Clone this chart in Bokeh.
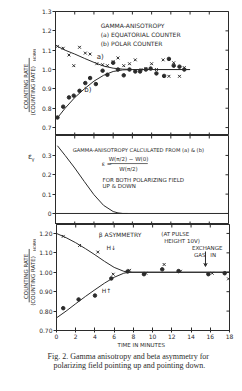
from math import pi
from bokeh.plotting import figure
from bokeh.layouts import column, row
from bokeh.models import Range1d, Label, Arrow, VeeHead, FixedTicker, Span
from bokeh.embed import file_html
from bokeh.resources import INLINE

# ---------------- data ----------------
time_ticks = [0, 2, 4, 6, 8, 10, 12, 14, 16, 18]

# panel 1: gamma anisotropy, (a) equatorial counter (crosses), (b) polar counter (dots)
p1_eq_t = [0.2, 0.8, 1.4, 1.9, 2.5, 3.1, 3.6, 4.3, 4.9, 5.4, 6.0, 6.5, 7.1, 7.7, 8.3, 8.9, 9.4, 10.0, 10.5, 11.2, 11.8, 12.3, 12.9, 13.4]
p1_eq_v = [1.12, 1.11, 1.075, 1.02, 1.115, 1.085, 1.08, 1.03, 1.025, 1.02, 1.04, 1.06, 1.02, 1.03, 1.05, 1.0, 1.005, 1.03, 1.0, 1.05, 0.965, 1.035, 0.965, 1.01]
p1_pol_t = [0.2, 0.8, 1.4, 1.9, 2.5, 3.1, 3.6, 4.2, 4.9, 5.4, 6.0, 6.5, 7.1, 7.7, 8.3, 8.8, 9.4, 9.9, 10.5, 11.3, 11.8, 12.3, 12.9, 13.4]
p1_pol_v = [0.752, 0.808, 0.856, 0.865, 0.89, 0.93, 0.956, 0.925, 0.994, 0.973, 1.035, 1.0, 0.97, 1.0, 0.99, 0.99, 1.0, 1.005, 0.98, 0.967, 1.055, 1.02, 1.015, 1.0]
p1_fit_a_t = [0.2, 1, 2, 3, 4, 5, 6, 7, 8, 14]
p1_fit_a_v = [1.12, 1.10, 1.08, 1.058, 1.037, 1.018, 1.007, 1.002, 1.0, 1.0]
p1_fit_b_t = [0.2, 1, 2, 3, 4, 5, 6, 7, 8, 14]
p1_fit_b_v = [0.75, 0.80, 0.855, 0.90, 0.94, 0.97, 0.99, 0.998, 1.0, 1.0]
p1_yticks = [0.7, 0.8, 0.9, 1.0, 1.1, 1.2, 1.3]
p1_ylabels = ["0.7", "0.8", "0.9", "1.0", "1.1", "1.2", "1.3"]

# panel 2: calculated gamma anisotropy
p2_eps_t = [0.2, 1, 2, 3, 4, 5, 6, 6.5, 7, 7.5]
p2_eps_v = [0.35, 0.30, 0.235, 0.165, 0.097, 0.042, 0.01, 0.003, 0.0, 0.0]
p2_yticks = [0.0, 0.1, 0.2, 0.3]
p2_ylabels = ["0", "0.1", "0.2", "0.3"]

# panel 3: beta asymmetry, H down (crosses), H up (dots)
p3_down_t = [0.7, 2.4, 4.3, 5.9, 7.6, 9.3, 11.2, 12.9, 16.2, 17.9]
p3_down_v = [1.185, 1.138, 1.104, 0.99, 1.01, 0.995, 1.04, 1.005, 0.995, 0.966]
p3_up_t = [0.7, 2.3, 4.0, 5.7, 7.4, 9.1, 11.0, 12.7, 15.8, 17.5]
p3_up_v = [0.815, 0.86, 0.88, 0.968, 1.004, 0.99, 1.015, 1.006, 0.99, 0.995]
p3_fit_down_t = [0, 1, 2, 3, 4, 5, 6, 7, 7.5, 18]
p3_fit_down_v = [1.20, 1.178, 1.152, 1.122, 1.09, 1.056, 1.025, 1.005, 1.0, 1.0]
p3_fit_up_t = [0, 1, 2, 3, 4, 5, 6, 7, 7.5, 18]
p3_fit_up_v = [0.765, 0.80, 0.838, 0.875, 0.91, 0.944, 0.974, 0.995, 1.0, 1.0]
p3_yticks = [0.7, 0.8, 0.9, 1.0, 1.1, 1.2]
p3_ylabels = ["0.70", "0.80", "0.90", "1.00", "1.10", "1.20"]

INK = "#2b2b2b"
FONT = "DejaVu Sans"
SERIF = "Liberation Serif"
LAB_W = 36      # width of the y-title strip (page x 0..36)
FRAME_W = 173
X0, X1 = 0, 18


def make_fig(frame_h, yr, yticks, ylabels, top, bottom, show_x):
    p = figure(title=None, frame_width=FRAME_W, frame_height=frame_h,
               x_range=Range1d(X0, X1), y_range=Range1d(*yr),
               output_backend="svg", toolbar_location=None,
               x_axis_location="below" if show_x else None,
               min_border_left=19, min_border_right=6, min_border_top=top, min_border_bottom=bottom)
    p.grid.visible = False
    p.outline_line_color = INK
    p.outline_line_width = 1
    p.background_fill_color = "white"
    p.border_fill_color = "white"
    ya = p.yaxis[0]
    ya.ticker = FixedTicker(ticks=yticks)
    ya.major_label_overrides = {t: l for t, l in zip(yticks, ylabels)}
    ya.major_label_text_font = FONT
    ya.major_label_text_font_size = "6px"
    ya.major_label_text_color = INK
    ya.major_label_standoff = 1
    ya.major_tick_out = 3
    ya.major_tick_in = 0
    ya.minor_tick_line_color = None
    ya.axis_line_color = INK
    ya.major_tick_line_color = INK
    if show_x:
        xa = p.xaxis[0]
        xa.ticker = FixedTicker(ticks=time_ticks)
        xa.minor_tick_line_color = None
        xa.axis_line_color = INK
        xa.major_tick_line_color = INK
        xa.major_label_text_font = FONT
        xa.major_label_text_font_size = "6px"
        xa.major_label_text_color = INK
        xa.major_label_standoff = 1
        xa.major_tick_out = 2
        xa.major_tick_in = 3
        xa.axis_label = "TIME  IN  MINUTES"
        xa.axis_label_text_font = FONT
        xa.axis_label_text_font_size = "5.5px"
        xa.axis_label_text_font_style = "normal"
        xa.axis_label_text_color = INK
        xa.axis_label_standoff = 0
    else:
        # inward time ticks on the bottom edge (half of each dash is clipped by the frame)
        p.scatter(time_ticks, [yr[0]] * len(time_ticks), marker="dash", angle=pi / 2, size=6,
                  line_color=INK, line_width=1)
    # inward time ticks on the top edge and value ticks on the right edge
    p.scatter(time_ticks, [yr[1]] * len(time_ticks), marker="dash", angle=pi / 2, size=6,
              line_color=INK, line_width=1)
    p.scatter([X1] * len(yticks), yticks, marker="dash", size=6, line_color=INK, line_width=1)
    return p


def strip_fig(frame_h, yr, top, bottom):
    f = figure(title=None, frame_width=LAB_W, frame_height=frame_h,
               x_range=Range1d(0, LAB_W), y_range=Range1d(*yr),
               output_backend="svg", toolbar_location=None, x_axis_location=None,
               y_axis_location=None,
               min_border_left=0, min_border_right=0, min_border_top=top, min_border_bottom=bottom)
    f.grid.visible = False
    f.outline_line_color = None
    f.background_fill_color = "white"
    f.border_fill_color = "white"
    return f


def txt(p, x, y, s, size="6px", align="left", font=FONT, angle=0.0):
    p.add_layout(Label(x=x, y=y, text=s, text_font=font, text_font_size=size, text_color=INK,
                       text_align=align, text_baseline="middle", angle=angle))


def ytitle(f, y_outer, y_inner, y_norm, y_bar0, y_bar1):
    txt(f, 25, y_outer, "COUNTING  RATE", size="5.5px", align="center", angle=pi / 2)
    txt(f, 32.3, y_inner, "⟨COUNTING  RATE⟩", size="5.5px", align="center", angle=pi / 2)
    txt(f, 34.2, y_norm, "NORM", size="3.8px", align="center", angle=pi / 2)
    f.add_layout(Arrow(x_start=28.7, y_start=y_bar0, x_end=28.7, y_end=y_bar1,
                       start=None, end=None, line_color=INK, line_width=0.8))


# ---------------- panel 1 ----------------
yr1 = (0.659, 1.3)
p1 = make_fig(124, yr1, p1_yticks, p1_ylabels, 11, 0, False)
p1.line(p1_fit_a_t, p1_fit_a_v, line_color=INK, line_width=1)
p1.line(p1_fit_b_t, p1_fit_b_v, line_color=INK, line_width=1)
p1.scatter(p1_eq_t, p1_eq_v, marker="x", size=4, line_color=INK, line_width=1)
p1.scatter(p1_pol_t, p1_pol_v, marker="circle", size=3.5, fill_color=INK, line_color=INK)
txt(p1, 4.7, 1.227, "GAMMA-ANISOTROPY")
txt(p1, 4.7, 1.181, "(a) EQUATORIAL COUNTER")
txt(p1, 4.7, 1.134, "(b) POLAR COUNTER")
txt(p1, 4.3, 1.063, "a)", size="7px")
txt(p1, 3.0, 0.893, "b)", size="7px")
l1 = strip_fig(124, yr1, 11, 0)
ytitle(l1, 0.917, 0.895, 1.075, 0.78, 1.06)

# ---------------- panel 2 ----------------
yr2 = (-0.057, 0.403)
p2 = make_fig(89, yr2, p2_yticks, p2_ylabels, 0, 0, False)
p2.add_layout(Span(location=0, dimension="width", line_color=INK, line_width=1))
p2.line(p2_eps_t, p2_eps_v, line_color=INK, line_width=1)
txt(p2, 1.8, 0.33, "GAMMA-ANISOTROPY CALCULATED FROM (a) & (b)", size="5.2px")
txt(p2, 4.8, 0.258, "ε =", size="6px")
txt(p2, 7.6, 0.283, "W(π/2) − W(0)", size="5.5px", align="center")
txt(p2, 7.6, 0.232, "W(π/2)", size="5.5px", align="center")
p2.add_layout(Arrow(x_start=5.7, y_start=0.258, x_end=9.6, y_end=0.258, start=None, end=None,
                    line_color=INK, line_width=0.7))
txt(p2, 4.9, 0.171, "FOR BOTH POLARIZING FIELD", size="5.5px")
txt(p2, 4.9, 0.140, "UP & DOWN", size="5.5px")
l2 = strip_fig(89, yr2, 0, 0)
txt(l2, 29.5, 0.295, "ε", size="7.5px", align="center")
txt(l2, 32.5, 0.283, "γ", size="5px", align="center")

# ---------------- panel 3 ----------------
yr3 = (0.70, 1.246)
p3 = make_fig(106, yr3, p3_yticks, p3_ylabels, 0, 20, True)
p3.line(p3_fit_down_t, p3_fit_down_v, line_color=INK, line_width=1)
p3.line(p3_fit_up_t, p3_fit_up_v, line_color=INK, line_width=1)
p3.scatter(p3_down_t, p3_down_v, marker="x", size=4, line_color=INK, line_width=1)
p3.scatter(p3_up_t, p3_up_v, marker="circle", size=3.5, fill_color=INK, line_color=INK)
txt(p3, 4.4, 1.195, "β  ASYMMETRY", size="6px")
txt(p3, 10.9, 1.195, "(AT  PULSE", size="5.5px")
txt(p3, 11.2, 1.162, "HEIGHT  10V)", size="5.5px")
txt(p3, 5.2, 1.128, "H↓", size="6px")
txt(p3, 4.7, 0.906, "H↑", size="6px")
txt(p3, 14.1, 1.123, "EXCHANGE", size="5.5px")
txt(p3, 14.3, 1.090, "GAS", size="5.5px")
txt(p3, 16.0, 1.090, "IN", size="5.5px")
p3.add_layout(Arrow(x_start=15.5, y_start=1.107, x_end=15.5, y_end=1.03,
                    end=VeeHead(size=3, line_color=INK, fill_color=INK), line_color=INK, line_width=1))
l3 = strip_fig(106, yr3, 0, 20)
ytitle(l3, 0.983, 0.96, 1.14, 0.845, 1.12)

# ---------------- caption ----------------
CAP_W = LAB_W + 19 + FRAME_W + 6
cap = figure(title=None, frame_width=CAP_W, frame_height=22, x_range=Range1d(0, CAP_W),
             y_range=Range1d(22, 0), output_backend="svg", toolbar_location=None,
             x_axis_location=None, y_axis_location=None,
             min_border_left=0, min_border_right=0, min_border_top=0, min_border_bottom=0)
cap.grid.visible = False
cap.outline_line_color = None
cap.background_fill_color = "white"
cap.border_fill_color = "white"
txt(cap, 47, 5.5, "Fig. 2. Gamma anisotropy and beta asymmetry for", size="8px", font=SERIF)
txt(cap, 53, 14.5, "polarizing field pointing up and pointing down.", size="8px", font=SERIF)

layout = column(row(l1, p1, spacing=0), row(l2, p2, spacing=0), row(l3, p3, spacing=0), cap,
                spacing=0)
open("out.html", "w").write(file_html(layout, INLINE))
